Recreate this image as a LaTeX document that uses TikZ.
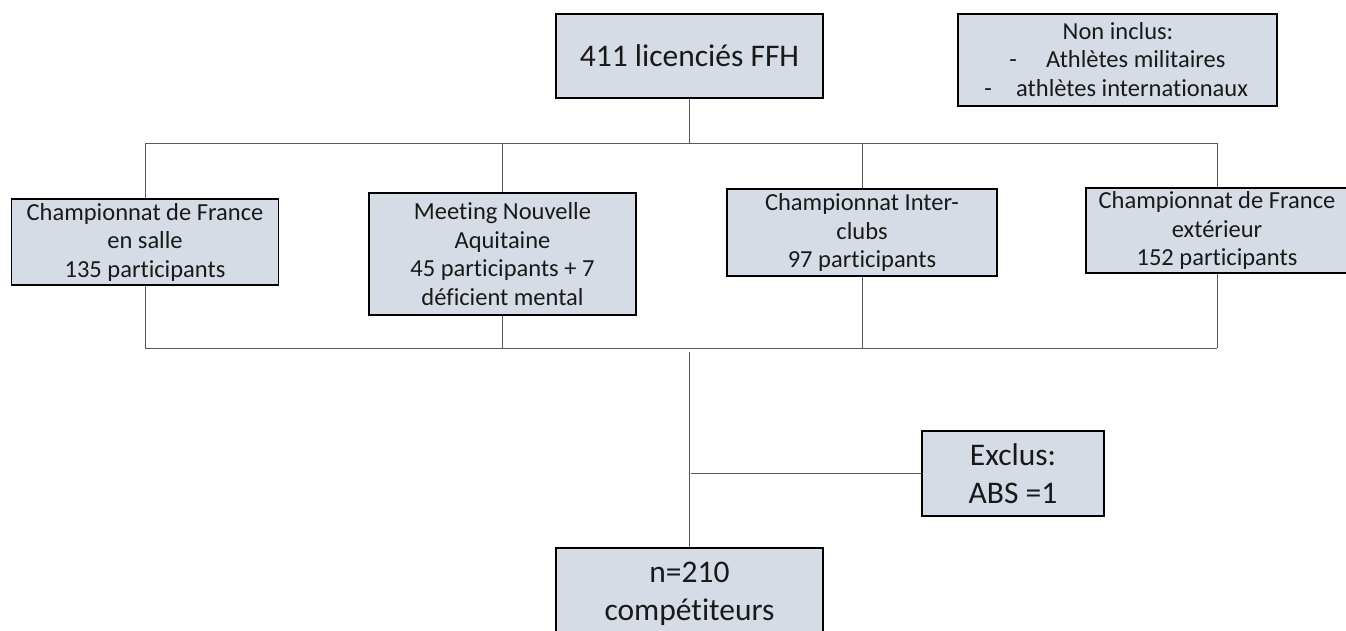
\documentclass[tikz,border=0pt]{standalone}
\usepackage{fontspec}
\setmainfont{Carlito}[Ligatures=NoCommon]
\definecolor{boxfill}{HTML}{D6DCE5}
\definecolor{linec}{HTML}{595959}
\begin{document}
\begin{tikzpicture}[x=1pt,y=-1pt,
  box/.style={draw=black, line width=1.3pt, fill=boxfill, inner sep=0pt, align=center, text=black!90},
  big/.style={font=\fontsize{31.5}{38}\selectfont},
  small/.style={font=\fontsize{24.5}{28.5}\selectfont},
  txt/.style={small, text=black!90, inner sep=0pt},
  conn/.style={draw=linec, line width=1pt}]
\useasboundingbox (0,0) rectangle (1346,630);
% top
\node[box,big,minimum width=267pt,minimum height=84pt] (top) at (689.5,56) {411 licenciés FFH};
% non inclus
\node[box,minimum width=319pt,minimum height=92pt] (non) at (1117.5,60) {};
\node[txt,anchor=base] (nt) at (1118,39) {Non inclus:};
\node[txt,anchor=base] (d1) at (1013,67.5) {-};
\node[txt,anchor=base west] (l1) at (1046,67.5) {Athlètes militaires};
\node[txt,anchor=base] (d2) at (988,96) {-};
\node[txt,anchor=base west] (l2) at (1016,96) {athlètes internationaux};
% four boxes
\node[box,small,minimum width=267pt,minimum height=86pt] (b1) at (145,242) {Championnat de France\\en salle\\135 participants};
\node[box,small,minimum width=267pt,minimum height=122pt] (b2) at (502.5,254) {Meeting Nouvelle\\Aquitaine\\45 participants + 7\\déficient mental};
\node[box,small,minimum width=270pt,minimum height=87pt] (b3) at (862,232.5) {Championnat Inter-\\clubs\\97 participants};
\node[box,small,minimum width=262pt,minimum height=85pt] (b4) at (1217,230.5) {Championnat de France\\extérieur\\152 participants};
% bottom boxes
\node[box,big,minimum width=182pt,minimum height=85pt] (ex) at (1013,473.5) {Exclus:\\ABS =1};
\node[box,big,minimum width=267pt,minimum height=92pt] (nb) at (689.5,594) {n=210\\compétiteurs};
% connectors
\coordinate (busT) at (689.5,143);
\coordinate (busB) at (689.5,348);
\coordinate (gap) at (689.5,352);
\coordinate (jx) at (691,473.5);
\draw[conn] (b1.north |- busT) -- (b4.north |- busT);
\draw[conn] (top.south) -- (busT);
\foreach \b in {b1,b2,b3,b4} {
  \draw[conn] (\b.north) -- (\b.north |- busT);
  \draw[conn] (\b.south) -- (\b.south |- busB);
}
\draw[conn] (b1.south |- busB) -- (b4.south |- busB);
\draw[conn] (gap) -- (nb.north);
\draw[conn] (jx) -- (ex.west);
\end{tikzpicture}
\end{document}
